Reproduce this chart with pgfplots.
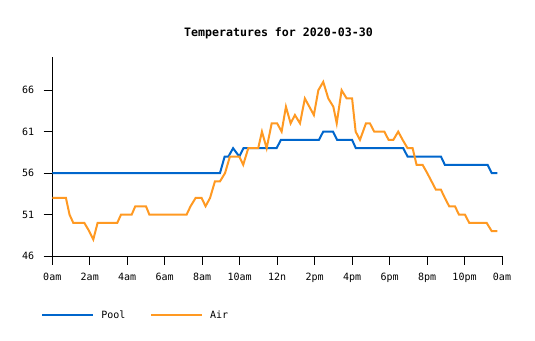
\documentclass[border=0pt]{standalone}
\usepackage{pgfplots}
\pgfplotsset{compat=1.18}
\usepackage{fontspec}
\setmainfont{DejaVu Sans Mono}
\definecolor{poolc}{RGB}{0,102,204}
\definecolor{airc}{RGB}{255,153,34}
\begin{document}
\begin{tikzpicture}
\useasboundingbox (0pt,0pt) rectangle (401.25pt,255pt);
\begin{axis}[
  at={(39.2pt,63pt)}, anchor=south west,
  scale only axis, width=337.3pt, height=149.25pt,
  xmin=0, xmax=24, ymin=46, ymax=70,
  axis x line*=bottom, axis y line*=left,
  axis line style={-, line width=0.75pt, black},
  tick align=outside, major tick length=6.5pt,
  tick style={line width=0.75pt, black},
  xtick={0,2,...,24},
  xticklabels={0am,2am,4am,6am,8am,10am,12n,2pm,4pm,6pm,8pm,10pm,0am},
  ytick={46,51,56,61,66},
  /pgf/number format/assume math mode=true,
  tick label style={font=\fontsize{7.5}{9}\selectfont},
  xticklabel style={yshift=-2.5pt},
  yticklabel style={xshift=-3.5pt},
  title={Temperatures for 2020-03-30},
  title style={font=\bfseries\fontsize{8.7}{10}\selectfont, at={(0.503,1)}, anchor=center, yshift=12pt},
  legend style={at={(-0.025,-0.298)}, anchor=west, draw=none, fill=none,
    legend columns=-1, inner sep=0pt, font=\fontsize{7.5}{9}\selectfont,
    /tikz/every odd column/.append style={column sep=3.5pt},
    /tikz/every even column/.append style={column sep=16.5pt}},
  legend image code/.code={\draw[line width=1.5pt,#1] (0pt,0pt) -- (38pt,0pt);},
]
\addplot[poolc, line width=1.5pt, sharp plot] coordinates {
(0,56) (8.95,56) (9.2,58) (9.4,58) (9.65,59) (9.98,58) (10.2,59) (11.97,59) (12.2,60) (14.23,60) (14.46,61) (14.98,61) (15.2,60) (16.0,60) (16.2,59) (18.73,59) (18.96,58) (20.74,58) (20.95,57) (23.23,57) (23.45,56) (23.75,56)
};
\addlegendentry{Pool}
\addplot[airc, line width=1.5pt, sharp plot] coordinates {
(0,53) (0.73,53) (0.92,51) (1.12,50) (1.71,50) (1.97,49) (2.19,48) (2.42,50) (3.47,50) (3.67,51) (4.24,51) (4.43,52) (5.0,52) (5.18,51) (7.17,51) (7.38,52) (7.65,53) (7.97,53) (8.18,52) (8.42,53) (8.68,55) (8.95,55) (9.22,56) (9.48,58) (9.98,58) (10.19,57) (10.46,59) (10.99,59) (11.19,61) (11.44,59) (11.71,62) (12.0,62) (12.24,61) (12.47,64) (12.72,62) (12.95,63) (13.22,62) (13.48,65) (13.96,63) (14.2,66) (14.46,67) (14.73,65) (15.0,64) (15.18,62) (15.44,66) (15.71,65) (16.0,65) (16.19,61) (16.42,60) (16.74,62) (16.95,62) (17.18,61) (17.72,61) (17.95,60) (18.2,60) (18.46,61) (18.7,60) (18.96,59) (19.23,59) (19.44,57) (19.76,57) (20.01,56) (20.24,55) (20.47,54) (20.74,54) (20.95,53) (21.18,52) (21.49,52) (21.7,51) (22.02,51) (22.25,50) (23.18,50) (23.45,49) (23.75,49)
};
\addlegendentry{Air}
\end{axis}
\end{tikzpicture}
\end{document}
